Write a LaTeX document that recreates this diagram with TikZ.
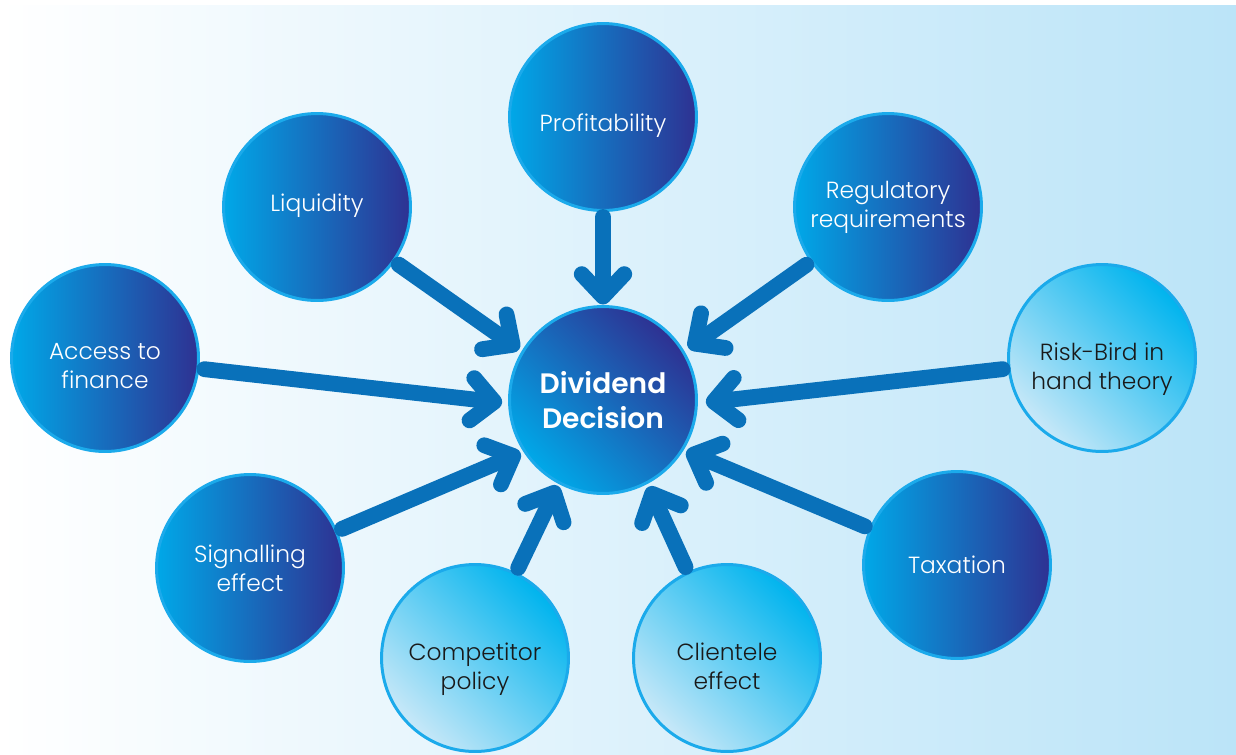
\documentclass[tikz,border=0pt]{standalone}
\usepackage{fontspec}
\setmainfont{Poppins}[UprightFont=* Light, BoldFont=* SemiBold]
\usepackage{tikz}
\usetikzlibrary{arrows.meta, shapes}
\definecolor{flowblue}{RGB}{9,113,186}
\definecolor{rimblue}{RGB}{27,170,235}
\definecolor{cyanleft}{RGB}{0,168,232}
\definecolor{midblue}{RGB}{4,86,166}
\definecolor{navyright}{RGB}{46,49,146}
\definecolor{paleblue}{RGB}{200,232,248}
\definecolor{skyblue}{RGB}{0,180,238}
\definecolor{bgright}{RGB}{187,228,248}
\definecolor{textdark}{RGB}{25,25,25}

\tikzset{
  factor/.style={circle, draw=rimblue, line width=1.7pt, minimum size=3.74cm,
    inner sep=0pt},
  darkfactor/.style={factor, left color=cyanleft, middle color=midblue,
    right color=navyright},
  lightfactor/.style={factor, top color=skyblue, middle color=skyblue!85!white,
    bottom color=paleblue, shading angle=-45},
  decision/.style={factor, top color=navyright, middle color=midblue,
    bottom color=cyanleft, shading angle=-45, text=white, align=center,
    font=\fontsize{16}{19.5}\selectfont\bfseries},
  whitetag/.style={align=center, text=white, font=\fontsize{13.3}{16.5}\selectfont},
  darktag/.style={whitetag, text=textdark},
  flow/.style={draw=flowblue, line width=9pt, line cap=round,
    -{Straight Barb[length=0.45cm, width=0.85cm, round]},
    shorten <=0.1cm, shorten >=0.06cm}
}

\begin{document}
\begin{tikzpicture}[x=0.02cm, y=-0.02cm]
  \useasboundingbox (0,0) rectangle (1236,754);
  % background
  \fill[white] (0,0) rectangle (1236,754);
  \fill[left color=white, right color=bgright] (0,5) rectangle (1236,754);

  % centre
  \node[decision] (dd) at (603,400) {Dividend\\Decision};

  % factors around it
  \node[darkfactor] (prof) at (603,117) {};
  \node[darkfactor] (liq) at (317,207) {};
  \node[darkfactor] (reg) at (888,207) {};
  \node[darkfactor] (acc) at (105,358) {};
  \node[lightfactor] (risk) at (1102,358) {};
  \node[darkfactor] (sig) at (250,568) {};
  \node[darkfactor] (tax) at (957,565) {};
  \node[lightfactor] (comp) at (475,658) {};
  \node[lightfactor] (cli) at (727,658) {};

  % their texts
  \node[whitetag] (profT) at ([yshift=-0.18cm]prof.center) {Profitability};
  \node[whitetag] (liqT) at ([yshift=0.02cm]liq.center) {Liquidity};
  \node[whitetag] (regT) at (reg.center) {Regulatory\\requirements};
  \node[whitetag] (accT) at ([yshift=-0.16cm]acc.center) {Access to\\finance};
  \node[darktag] (riskT) at ([yshift=-0.22cm]risk.center) {Risk-Bird in\\hand theory};
  \node[whitetag] (sigT) at (sig.center) {Signalling\\effect};
  \node[whitetag] (taxT) at (tax.center) {Taxation};
  \node[darktag] (compT) at ([yshift=-0.22cm]comp.center) {Competitor\\policy};
  \node[darktag] (cliT) at ([yshift=-0.16cm]cli.center) {Clientele\\effect};

  % arrows into the decision
  \draw[flow, shorten >=0.01cm] (prof) -- (dd.north);
  \draw[flow] (liq) -- (dd.149);
  \draw[flow, shorten >=0.1cm] (reg) -- (dd.31);
  \draw[flow, shorten >=0.12cm] (acc) -- (dd.182);
  \draw[flow, shorten >=0.16cm] (risk) -- (dd.358);
  \draw[flow] (sig) -- (dd.213);
  \draw[flow] (tax) -- (dd.328);
  \draw[flow, shorten >=0.04cm] (comp) -- (dd.242);
  \draw[flow] (cli) -- (dd.298);
\end{tikzpicture}
\end{document}
